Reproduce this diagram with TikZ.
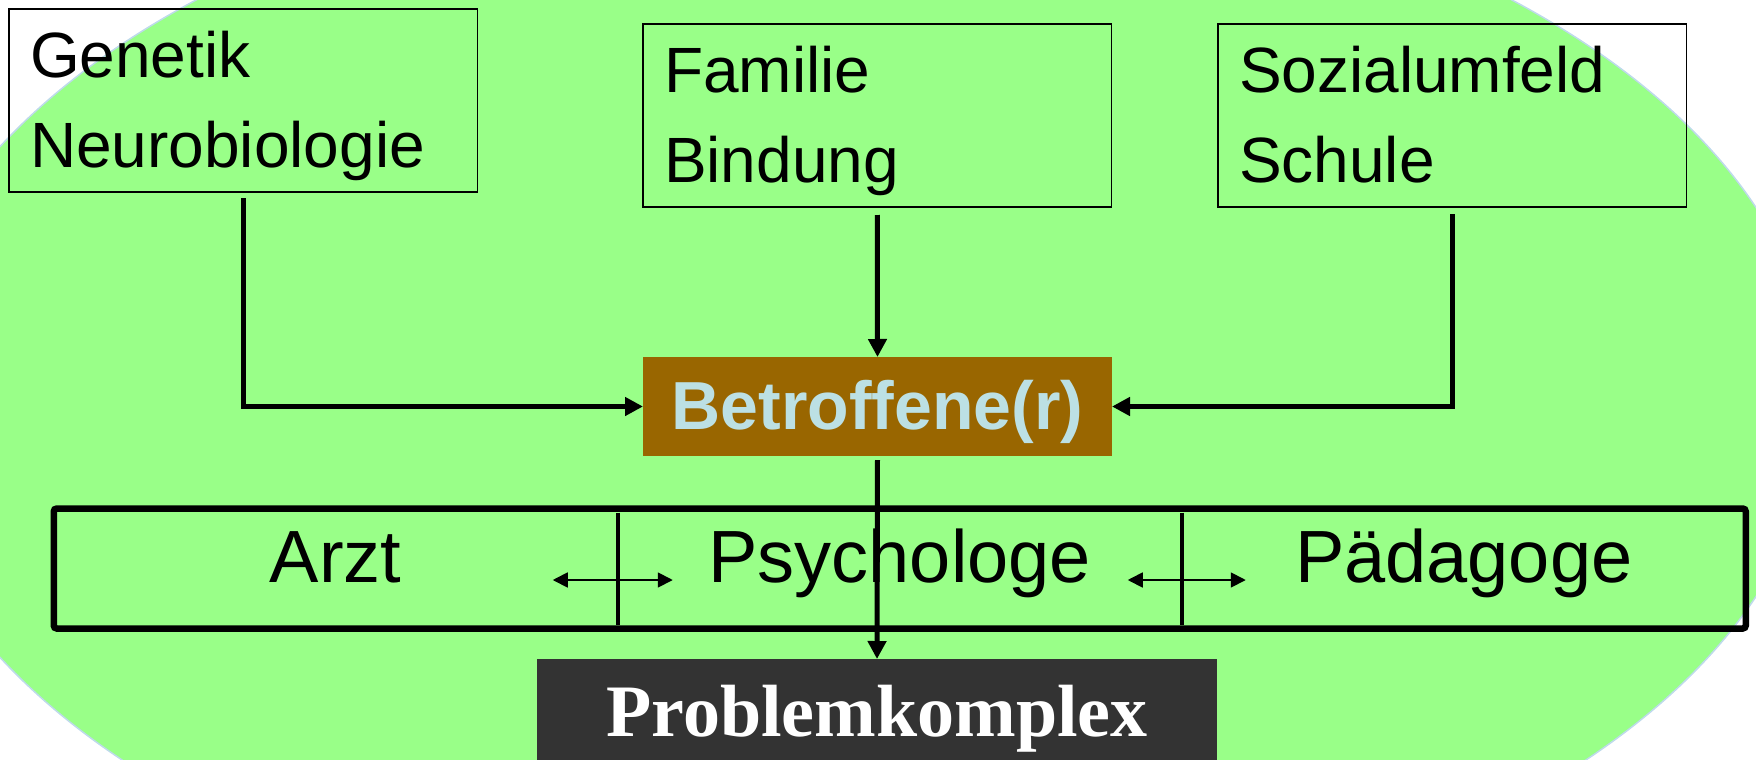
\documentclass[tikz,border=0pt]{standalone}
\usepackage{fontspec}
\setmainfont{Liberation Sans}
\newfontfamily\serifbold{Liberation Serif}
\usetikzlibrary{arrows.meta}
\usetikzlibrary{positioning}
\definecolor{wiese}{RGB}{153,255,136}
\definecolor{rand}{RGB}{190,218,235}
\definecolor{braun}{RGB}{153,102,0}
\definecolor{hellblau}{RGB}{188,224,228}
\definecolor{dunkel}{RGB}{51,51,51}

\begin{document}
\begin{tikzpicture}[x=0.5pt,y=0.5pt,yscale=-1,xscale=1,
  einfluss/.style={draw,line width=0.8pt,outer sep=0pt,inner xsep=10.5pt,inner ysep=0pt,text width=213.25pt,align=left,text height=34pt,text depth=57.5pt,font=\fontsize{32}{45}\selectfont},
  fach/.style={outer sep=0pt,inner sep=0pt,minimum width=282pt,text height=36.75pt,text depth=23.25pt,font=\fontsize{37}{44}\selectfont},
  pfeil/.style={line width=2.5pt,-{Triangle[length=9pt,width=9pt]}},
  wechsel/.style={line width=0.9pt,{Triangle[length=7.5pt,width=7.5pt]}-{Triangle[length=7.5pt,width=7.5pt]}}]
\useasboundingbox (0,0) rectangle (1756,760);

%Shape: Ellipse
\draw [fill=wiese,draw=rand,line width=0.75pt] (854,402) ellipse [x radius=964,y radius=550];

% Text Node
\node [einfluss,anchor=north west] (gen) at (9,9) {Genetik\\Neurobiologie};
% Text Node
\node [einfluss,anchor=north west] (fam) at (643,24) {Familie\\Bindung};
% Text Node
\node [einfluss,anchor=north west] (soz) at (1218,24) {Sozialumfeld\\Schule};
% Text Node
\node [fill=braun,text=hellblau,font=\bfseries\fontsize{34}{40}\selectfont,minimum width=234.5pt,inner sep=0pt,outer sep=0pt,text height=36pt,text depth=13.5pt] (betr) at (877.5,406.5) {Betroffene(r)};

%Shape: Band
\node [fach] (arzt) at (335.75,568.5) {Arzt};
\node [fach,right=0pt of arzt] (psych) {Psychologe};
\node [fach,right=0pt of psych] (paed) {Pädagoge};
\draw [line width=3.25pt,rounded corners=1.5pt] (arzt.north west) rectangle (paed.south east);
\draw [line width=2pt] ([yshift=2pt]arzt.north east) -- ([yshift=-2pt]arzt.south east);
\draw [line width=2pt] ([yshift=2pt]psych.north east) -- ([yshift=-2pt]psych.south east);

%Straight Lines
\coordinate (w1) at ([xshift=-32.5pt,yshift=-1pt]arzt.base east);
\coordinate (w2) at ([xshift=27.5pt,yshift=-1pt]arzt.base east);
\draw [wechsel] (w1) -- (w2);
\coordinate (w3) at ([xshift=-27pt,yshift=-1pt]psych.base east);
\coordinate (w4) at ([xshift=32pt,yshift=-1pt]psych.base east);
\draw [wechsel] (w3) -- (w4);

% Text Node
\node [fill=dunkel,text=white,font=\serifbold\bfseries\fontsize{37}{44}\selectfont,minimum width=340pt,inner sep=0pt,outer sep=0pt,text height=38.5pt,text depth=20pt,anchor=north] (prob) at (877,659) {Problemkomplex};

%Straight Lines
\draw [pfeil,shorten <=3pt] (gen.south) |- (betr.west);
\draw [pfeil,shorten <=4pt] (fam.south) -- (betr.north);
\draw [pfeil,shorten <=3.5pt] (soz.south) |- (betr.east);
\draw [pfeil,shorten <=2pt] (betr.south) -- (prob.north);

\end{tikzpicture}
\end{document}
